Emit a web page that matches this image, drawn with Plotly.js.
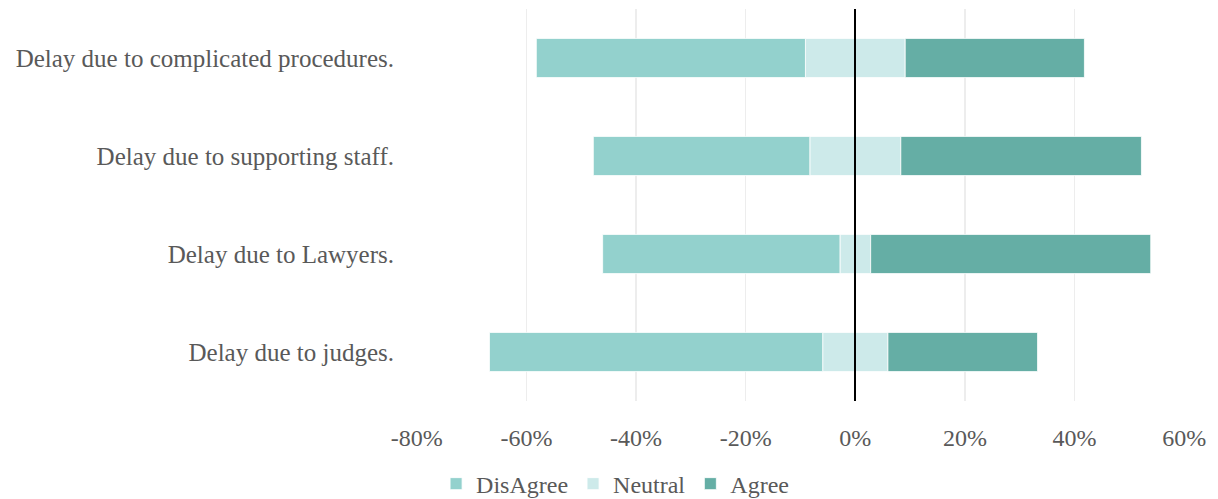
<!DOCTYPE html>
<html>
<head>
<meta charset="utf-8">
<script src="https://cdn.plot.ly/plotly-3.0.1.min.js"></script>
<style>html,body{margin:0;padding:0;background:#fff;}#chart{width:1218px;height:499px;}</style>
</head>
<body>
<div id="chart"></div>
<script>
const categories = ["Delay due to complicated procedures.", "Delay due to supporting staff.", "Delay due to Lawyers.", "Delay due to judges."];
const disagree = [49.1, 39.5, 43.3, 60.8];
const neutral = [18.2, 16.6, 5.6, 11.9];
const agree = [32.7, 43.9, 51.1, 27.3];
const tickVals = [-80, -60, -40, -20, 0, 20, 40, 60];
const tickText = ["-80%", "-60%", "-40%", "-20%", "0%", "20%", "40%", "60%"];

const cDis = "#93D1CD", cNeu = "#CDEAEA", cAgr = "#65AEA5";
const line = {color: "rgba(255,255,255,0.8)", width: 1};
const fontFam = "'Liberation Serif', 'DejaVu Serif', serif";

const traces = [
  {type: "bar", orientation: "h", name: "Neutral", y: categories, x: neutral.map(v => -v / 2),
   marker: {color: cNeu, line: line}, legendgroup: "n", showlegend: false, hoverinfo: "skip"},
  {type: "bar", orientation: "h", name: "DisAgree", y: categories, x: disagree.map(v => -v),
   marker: {color: cDis, line: line}, legendrank: 1},
  {type: "bar", orientation: "h", name: "Neutral", y: categories, x: neutral.map(v => v / 2),
   marker: {color: cNeu, line: line}, legendgroup: "n", legendrank: 2},
  {type: "bar", orientation: "h", name: "Agree", y: categories, x: agree,
   marker: {color: cAgr, line: line}, legendrank: 3}
];

const layout = {
  width: 1218, height: 499,
  margin: {l: 416, r: 33, t: 9, b: 98},
  barmode: "relative",
  bargap: 0.6,
  paper_bgcolor: "#fff", plot_bgcolor: "#fff",
  font: {family: fontFam, color: "#595959", size: 24},
  xaxis: {
    range: [-80.15, 60.15], tickvals: tickVals, ticktext: tickText,
    showgrid: true, gridcolor: "#EDEDED", gridwidth: 1.5,
    zeroline: true, zerolinecolor: "#000", zerolinewidth: 2, zerolinelayer: "above traces",
    ticks: "outside", ticklen: 15, tickcolor: "rgba(0,0,0,0)",
    tickfont: {family: fontFam, size: 24, color: "#595959"},
    showline: false, fixedrange: true
  },
  yaxis: {
    type: "category", autorange: "reversed",
    showgrid: false, zeroline: false, showline: false,
    ticks: "outside", ticklen: 16, tickcolor: "rgba(0,0,0,0)",
    tickfont: {family: fontFam, size: 25, color: "#595959"}
  },
  showlegend: true,
  legend: {
    orientation: "h", xref: "container", yref: "container",
    x: 0.505, xanchor: "center", y: 0.03, yanchor: "middle",
    font: {family: fontFam, size: 24, color: "#595959"},
    traceorder: "normal", itemwidth: 30
  }
};

Plotly.newPlot("chart", traces, layout, {displayModeBar: false, staticPlot: true});
</script>
</body>
</html>
